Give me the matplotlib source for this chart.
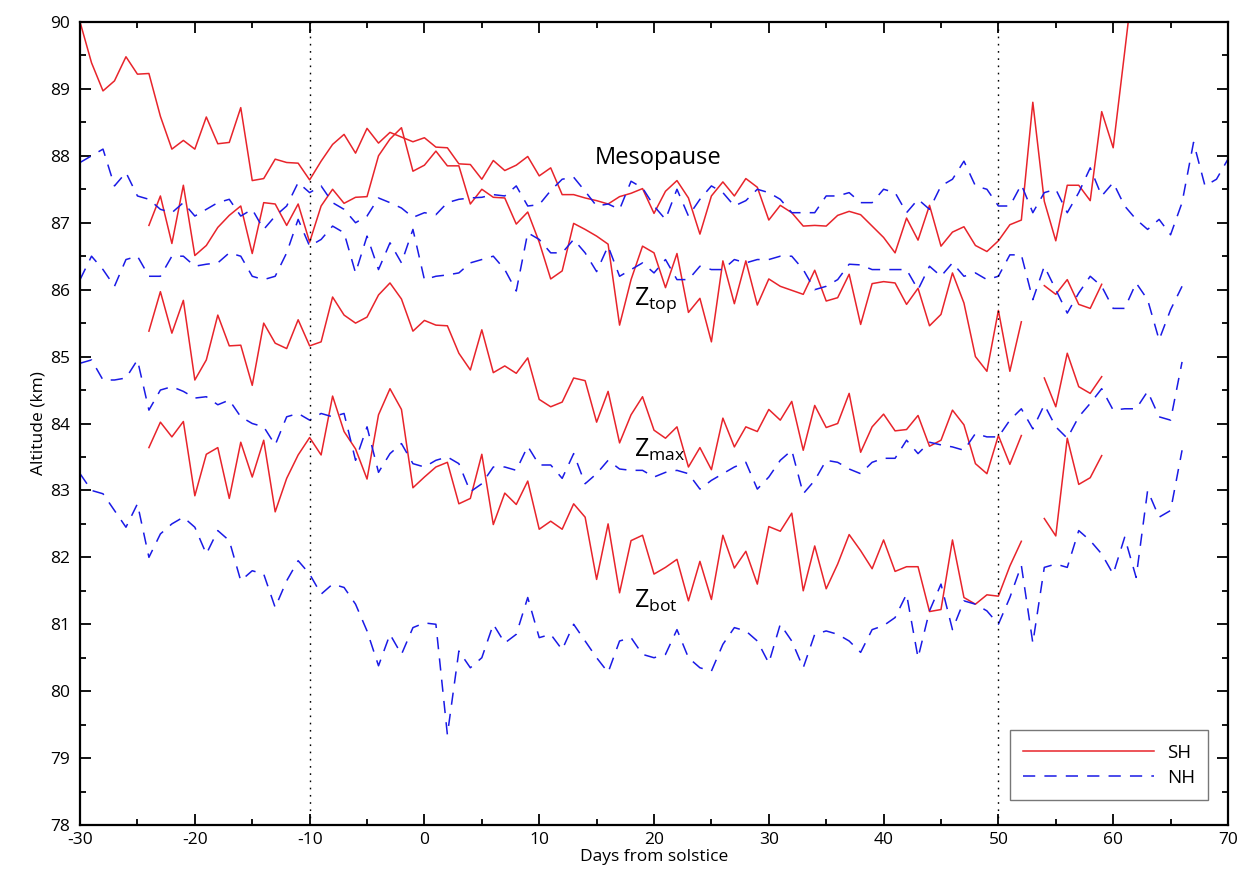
import numpy as np
import matplotlib
matplotlib.use("Agg")
import matplotlib.pyplot as plt
from matplotlib.ticker import MultipleLocator

plt.rcParams["font.family"] = ["Open Sans", "DejaVu Sans"]
plt.rcParams["mathtext.fontset"] = "custom"
plt.rcParams["mathtext.rm"] = "Open Sans"
plt.rcParams["axes.unicode_minus"] = False

nan = np.nan

# ---- data (days from solstice, altitude in km) ----
sh_days_meso = np.arange(-30, 63)
sh_meso = [90.0, 89.39, 88.97, 89.12, 89.48, 89.22, 89.23, 88.59, 88.1, 88.23,
           88.1, 88.58, 88.18, 88.2, 88.72, 87.63, 87.66, 87.95, 87.9, 87.89,
           87.64, 87.92, 88.17, 88.32, 88.04, 88.41, 88.19, 88.35, 88.28, 88.21,
           88.27, 88.13, 88.12, 87.88, 87.87, 87.65, 87.93, 87.78, 87.86, 87.99,
           87.7, 87.82, 87.42, 87.42, 87.37, 87.33, 87.28, 87.39, 87.44, 87.51,
           87.14, 87.47, 87.63, 87.37, 86.83, 87.4, 87.61, 87.4, 87.66, 87.53,
           87.04, 87.26, 87.15, 86.95, 86.96, 86.95, 87.11, 87.17, 87.12, 86.95,
           86.78, 86.55, 87.07, 86.74, 87.26, 86.65, 86.86, 86.94, 86.66, 86.57,
           86.73, 86.97, 87.04, 88.8, 87.32, 86.73, 87.56, 87.56, 87.33, 88.66,
           88.12, 89.55, 91.0]

sh_days = np.arange(-24, 60)
sh_ztop = [86.96, 87.4, 86.69, 87.56, 86.51, 86.66, 86.93, 87.11, 87.25, 86.54,
           87.3, 87.28, 86.96, 87.28, 86.71, 87.25, 87.5, 87.29, 87.38, 87.39,
           88.0, 88.25, 88.42, 87.77, 87.86, 88.07, 87.85, 87.85, 87.28, 87.5,
           87.38, 87.37, 86.98, 87.16, 86.71, 86.16, 86.28, 86.99, 86.9, 86.8,
           86.68, 85.47, 86.15, 86.65, 86.55, 86.03, 86.54, 85.66, 85.87, 85.22,
           86.43, 85.79, 86.43, 85.77, 86.16, 86.05, 85.99, 85.93, 86.29, 85.83,
           85.88, 86.23, 85.48, 86.09, 86.12, 86.1, 85.78, 86.02, 85.46, 85.63,
           86.25, 85.8, 85.0, 84.78, 85.69, 84.78, 85.52, nan, 86.06, 85.93,
           86.15, 85.78, 85.72, 86.08]
sh_zmax = [85.38, 85.97, 85.35, 85.84, 84.65, 84.95, 85.62, 85.16, 85.17, 84.57,
           85.5, 85.2, 85.12, 85.55, 85.16, 85.22, 85.89, 85.62, 85.5, 85.59,
           85.92, 86.1, 85.86, 85.38, 85.54, 85.47, 85.46, 85.05, 84.8, 85.4,
           84.76, 84.86, 84.75, 84.98, 84.36, 84.25, 84.32, 84.68, 84.64, 84.02,
           84.48, 83.71, 84.13, 84.4, 83.9, 83.78, 83.95, 83.35, 83.64, 83.31,
           84.08, 83.65, 83.95, 83.88, 84.21, 84.05, 84.33, 83.6, 84.27, 83.94,
           84.0, 84.45, 83.57, 83.95, 84.14, 83.89, 83.91, 84.12, 83.66, 83.75,
           84.2, 83.98, 83.4, 83.25, 83.82, 83.39, 83.82, nan, 84.68, 84.25,
           85.05, 84.55, 84.45, 84.7]
sh_zbot = [83.64, 84.02, 83.8, 84.03, 82.92, 83.54, 83.64, 82.88, 83.72, 83.2,
           83.75, 82.68, 83.18, 83.53, 83.79, 83.53, 84.41, 83.88, 83.62, 83.17,
           84.13, 84.52, 84.21, 83.04, 83.2, 83.35, 83.42, 82.8, 82.88, 83.54,
           82.49, 82.96, 82.79, 83.14, 82.42, 82.54, 82.42, 82.8, 82.6, 81.67,
           82.5, 81.47, 82.25, 82.33, 81.75, 81.85, 81.97, 81.35, 81.94, 81.37,
           82.33, 81.84, 82.09, 81.6, 82.46, 82.39, 82.66, 81.5, 82.17, 81.53,
           81.9, 82.34, 82.1, 81.83, 82.26, 81.79, 81.86, 81.86, 81.19, 81.22,
           82.26, 81.4, 81.3, 81.44, 81.42, 81.87, 82.24, nan, 82.58, 82.32,
           83.78, 83.09, 83.19, 83.52]

nh_days_meso = np.arange(-30, 71)
nh_meso = [87.9, 88.0, 88.1, 87.55, 87.75, 87.4, 87.35, 87.2, 87.15, 87.3,
           87.1, 87.2, 87.3, 87.35, 87.1, 87.2, 86.9, 87.1, 87.25, 87.6,
           87.45, 87.55, 87.3, 87.2, 87.0, 87.1, 87.37, 87.3, 87.22, 87.08,
           87.15, 87.12, 87.3, 87.35, 87.37, 87.38, 87.42, 87.4, 87.55, 87.25,
           87.27, 87.48, 87.65, 87.68, 87.47, 87.25, 87.28, 87.2, 87.62, 87.52,
           87.25, 87.05, 87.5, 87.1, 87.35, 87.55, 87.45, 87.25, 87.33, 87.5,
           87.45, 87.35, 87.15, 87.15, 87.15, 87.4, 87.4, 87.45, 87.3, 87.3,
           87.5, 87.45, 87.15, 87.35, 87.2, 87.55, 87.65, 87.92, 87.55, 87.5,
           87.25, 87.25, 87.57, 87.15, 87.45, 87.5, 87.15, 87.45, 87.82, 87.4,
           87.6, 87.25, 87.05, 86.9, 87.05, 86.82, 87.3, 88.2, 87.55, 87.65,
           87.95]

nh_days = np.arange(-30, 67)
nh_ztop = [86.15, 86.5, 86.3, 86.05, 86.45, 86.5, 86.2, 86.2, 86.5, 86.5,
           86.35, 86.38, 86.4, 86.55, 86.5, 86.2, 86.15, 86.2, 86.55, 87.05,
           86.65, 86.75, 86.95, 86.85, 86.25, 86.8, 86.3, 86.7, 86.4, 86.9,
           86.15, 86.2, 86.22, 86.25, 86.4, 86.45, 86.5, 86.3, 85.98, 86.85,
           86.75, 86.55, 86.55, 86.75, 86.55, 86.27, 86.65, 86.2, 86.3, 86.4,
           86.25, 86.45, 86.15, 86.15, 86.35, 86.3, 86.3, 86.45, 86.4, 86.45,
           86.45, 86.5, 86.5, 86.3, 86.0, 86.05, 86.15, 86.38, 86.37, 86.3,
           86.3, 86.3, 86.3, 86.0, 86.35, 86.2, 86.4, 86.2, 86.25, 86.15,
           86.2, 86.52, 86.52, 85.85, 86.35, 86.0, 85.65, 85.95, 86.2, 86.05,
           85.72, 85.72, 86.1, 85.85, 85.25, 85.7, 86.05]
nh_zmax = [84.9, 84.95, 84.65, 84.65, 84.68, 84.95, 84.2, 84.5, 84.55, 84.48,
           84.38, 84.4, 84.28, 84.35, 84.1, 84.0, 83.95, 83.68, 84.1, 84.15,
           84.05, 84.15, 84.1, 84.15, 83.45, 83.95, 83.27, 83.55, 83.7, 83.4,
           83.35, 83.45, 83.5, 83.4, 82.98, 83.1, 83.35, 83.35, 83.3, 83.66,
           83.38, 83.38, 83.18, 83.55, 83.1, 83.25, 83.45, 83.32, 83.3, 83.3,
           83.2, 83.27, 83.3, 83.25, 83.02, 83.15, 83.25, 83.35, 83.42, 83.02,
           83.2, 83.45, 83.6, 82.95, 83.15, 83.45, 83.42, 83.32, 83.25, 83.42,
           83.48, 83.48, 83.75, 83.55, 83.72, 83.68, 83.65, 83.6, 83.85, 83.8,
           83.8, 84.05, 84.22, 83.92, 84.28, 83.95, 83.78, 84.1, 84.3, 84.52,
           84.2, 84.22, 84.22, 84.48, 84.1, 84.05, 84.92]
nh_zbot = [83.25, 83.0, 82.95, 82.7, 82.45, 82.8, 82.0, 82.35, 82.5, 82.6,
           82.45, 82.05, 82.4, 82.25, 81.65, 81.8, 81.75, 81.25, 81.65, 81.95,
           81.75, 81.45, 81.6, 81.55, 81.3, 80.9, 80.38, 80.85, 80.55, 80.95,
           81.02, 81.0, 79.35, 80.6, 80.35, 80.5, 81.0, 80.72, 80.85, 81.4,
           80.8, 80.85, 80.62, 81.0, 80.75, 80.5, 80.28, 80.75, 80.8, 80.55,
           80.5, 80.55, 80.92, 80.5, 80.35, 80.3, 80.7, 80.95, 80.9, 80.75,
           80.42, 81.0, 80.75, 80.35, 80.85, 80.9, 80.85, 80.75, 80.58, 80.92,
           80.98, 81.1, 81.45, 80.5, 81.2, 81.6, 80.92, 81.35, 81.3, 81.2,
           81.0, 81.4, 81.88, 80.72, 81.85, 81.9, 81.85, 82.4, 82.25, 82.05,
           81.75, 82.3, 81.7, 83.0, 82.6, 82.7, 83.6]

marker_days = [-10, 50]

RED = "#e8242b"
BLUE = "#1a1ae6"
DASH = (0, (8, 6))

fig = plt.figure(figsize=(12.41, 8.75), dpi=100)
ax = fig.add_axes([0.0645, 0.0571, 0.925, 0.9178])

# southern hemisphere (solid red)
ax.plot(sh_days_meso, sh_meso, color=RED, lw=1.1, label="SH")
for vals in (sh_ztop, sh_zmax, sh_zbot):
    ax.plot(sh_days, vals, color=RED, lw=1.1)

# northern hemisphere (dashed blue)
ax.plot(nh_days_meso, nh_meso, color=BLUE, lw=1.1, ls=DASH, label="NH")
for vals in (nh_ztop, nh_zmax, nh_zbot):
    ax.plot(nh_days, vals, color=BLUE, lw=1.1, ls=DASH)

for d in marker_days:
    ax.axvline(d, color="black", lw=1.0, ls=(0, (1.2, 4)))

# labels on the curves
ax.text(14.8, 87.97, "Mesopause", fontsize=17, va="center", ha="left")
ax.text(18.3, 85.85, r"$\mathrm{Z}_{\mathrm{top}}$", fontsize=18, va="center")
ax.text(18.3, 83.6, r"$\mathrm{Z}_{\mathrm{max}}$", fontsize=18, va="center")
ax.text(18.3, 81.35, r"$\mathrm{Z}_{\mathrm{bot}}$", fontsize=18, va="center")

ax.set_xlim(-30, 70)
ax.set_ylim(78, 90)
ax.xaxis.set_major_locator(MultipleLocator(10))
ax.xaxis.set_minor_locator(MultipleLocator(5))
ax.yaxis.set_major_locator(MultipleLocator(1))
ax.yaxis.set_minor_locator(MultipleLocator(0.5))
ax.tick_params(which="both", direction="in", top=True, right=True,
               labelsize=12.5, width=1.3)
ax.tick_params(axis="x", pad=5)
ax.tick_params(axis="y", pad=7)
ax.tick_params(which="major", length=8)
ax.tick_params(which="minor", length=4.5)
for sp in ax.spines.values():
    sp.set_linewidth(1.6)

ax.set_xlabel("Days from solstice", fontsize=12.5, labelpad=1)
ax.set_ylabel("Altitude (km)", fontsize=12.5, labelpad=3)

leg = ax.legend(loc="lower right", bbox_to_anchor=(0.983, 0.031),
                borderaxespad=0, fontsize=13.5, handlelength=7.0,
                frameon=True, fancybox=False, edgecolor="#555555",
                borderpad=0.7, labelspacing=0.4, handletextpad=0.7)
leg.get_frame().set_linewidth(1.0)

fig.savefig("out.png", dpi=100)
